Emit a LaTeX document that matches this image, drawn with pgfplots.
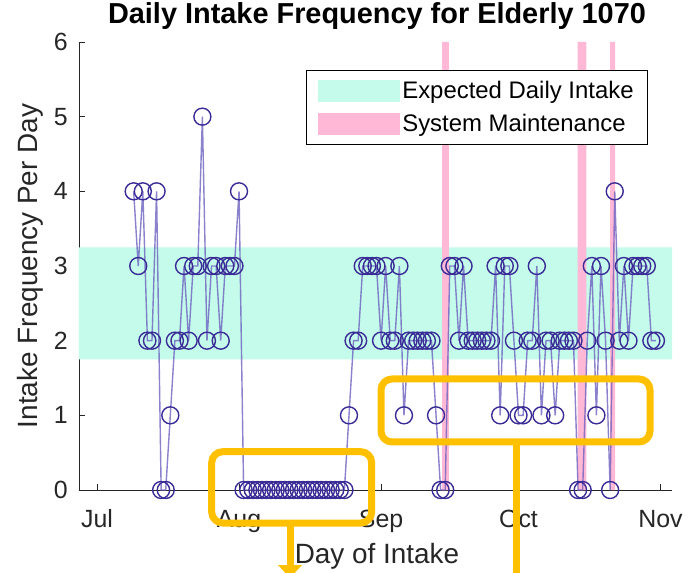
\documentclass[border=0pt]{standalone}
\usepackage{fontspec}
\setmainfont{Liberation Sans}
\usepackage{pgfplots}
\usepackage{pgfplotstable}
\pgfplotsset{compat=1.18}
\definecolor{bandc}{RGB}{196,251,235}
\definecolor{maintc}{RGB}{255,184,214}
\definecolor{linec}{RGB}{110,98,192}
\definecolor{markc}{RGB}{58,44,150}
\definecolor{axgray}{RGB}{38,38,38}
\definecolor{notec}{RGB}{255,192,0}

% day 0 = 1 Jul
\pgfplotstableread{
day val
8 4
9 3
10 4
11 2
12 2
13 4
14 0
15 0
16 1
17 2
18 2
19 3
20 2
21 3
22 3
23 5
24 2
25 3
26 3
27 2
28 3
29 3
30 3
31 4
32 0
33 0
34 0
35 0
36 0
37 0
38 0
39 0
40 0
41 0
42 0
43 0
44 0
45 0
46 0
47 0
48 0
49 0
50 0
51 0
52 0
53 0
54 0
55 1
56 2
57 2
58 3
59 3
60 3
61 3
62 2
63 3
64 2
65 2
66 3
67 1
68 2
69 2
70 2
71 2
72 2
73 2
74 1
75 0
76 0
77 3
78 3
79 2
80 3
81 2
82 2
83 2
84 2
85 2
86 2
87 3
88 1
89 3
90 3
91 2
92 1
93 1
94 2
95 2
96 3
97 1
98 2
99 2
100 1
101 2
102 2
103 2
104 2
105 0
106 0
107 2
108 3
109 1
110 3
111 2
112 0
113 4
114 2
115 3
116 2
117 3
118 3
119 3
120 3
121 2
122 2
}\intake

\begin{document}
\begin{tikzpicture}
\useasboundingbox (-79bp,-83bp) rectangle (609bp,490bp);
\begin{axis}[
    at={(0,0)}, anchor=south west,
    scale only axis, width=593bp, height=448bp,
    xmin=-3.93, xmax=125.5, ymin=0, ymax=6,
    xtick={0,31,62,92,123}, xticklabels={Jul,Aug,Sep,Oct,Nov},
    ytick={0,1,...,6},
    axis lines=left,
    axis line style={-, draw=axgray, line width=0.9bp},
    tick style={draw=axgray, line width=0.9bp},
    tick align=inside, major tick length=6bp,
    clip=false,
    /pgf/number format/assume math mode=true,
    tick label style={font=\fontsize{25}{28}\selectfont, text=axgray, inner sep=0pt},
    xticklabel style={anchor=base, yshift=-37bp},
    yticklabel style={anchor=east, xshift=-11bp},
    title={Daily Intake Frequency for Elderly 1070},
    title style={at={(axis description cs:0.5025,1.027)}, anchor=base,
        font=\bfseries\fontsize{29}{32}\selectfont},
    xlabel={Day of Intake},
    xlabel style={at={(axis description cs:0.5025,-0.163)}, anchor=base,
        font=\fontsize{28}{31}\selectfont, text=axgray},
    ylabel={Intake Frequency Per Day},
    ylabel style={at={(axis description cs:-0.0826,0.5)}, anchor=center,
        font=\fontsize{28}{31}\selectfont, text=axgray},
    legend style={at={(axis description cs:0.9595,0.9375)}, anchor=north east,
        draw=black, line width=0.8bp, fill=white,
        font=\fontsize{24}{27}\selectfont,
        inner xsep=12bp, inner ysep=9bp, row sep=10bp,
        cells={anchor=west}},
    legend image code/.code={\fill[#1] (0bp,-11bp) rectangle (82bp,11bp);},
]
\addplot[fill=bandc, draw=none] coordinates
    {(-3.93,1.75) (125.5,1.75) (125.5,3.25) (-3.93,3.25) (-3.93,1.75)};
\addplot[fill=maintc, draw=none] coordinates
    {(75.3,0) (76.8,0) (76.8,6) (75.3,6) (75.3,0)};
\addplot[fill=maintc, draw=none, forget plot] coordinates
    {(104.9,0) (106.8,0) (106.8,6) (104.9,6) (104.9,0)};
\addplot[fill=maintc, draw=none, forget plot] coordinates
    {(112,0) (113.1,0) (113.1,6) (112,6) (112,0)};
\addplot[draw=linec, line width=1.4bp, draw opacity=0.8, mark=none, forget plot]
    table[x=day, y=val] {\intake};
\addplot[only marks, mark=o, mark size=8.5bp,
    mark options={draw=markc, line width=1.4bp}, forget plot]
    table[x=day, y=val] {\intake};
\legend{Expected Daily Intake, System Maintenance}
\end{axis}
% highlight boxes drawn over the chart
\draw[notec, line width=7bp, rounded corners=11bp]
    (132.7bp,38.3bp) rectangle (292.7bp,-33bp);
\draw[notec, line width=7bp] (211bp,-33bp) -- (211bp,-76bp);
\fill[notec] (199bp,-75bp) -- (223bp,-75bp) -- (211bp,-88bp) -- cycle;
\draw[notec, line width=7bp, rounded corners=11bp]
    (302bp,111bp) rectangle (571bp,48bp);
\draw[notec, line width=7bp] (437bp,48bp) -- (437bp,-95bp);
\end{tikzpicture}
\end{document}
